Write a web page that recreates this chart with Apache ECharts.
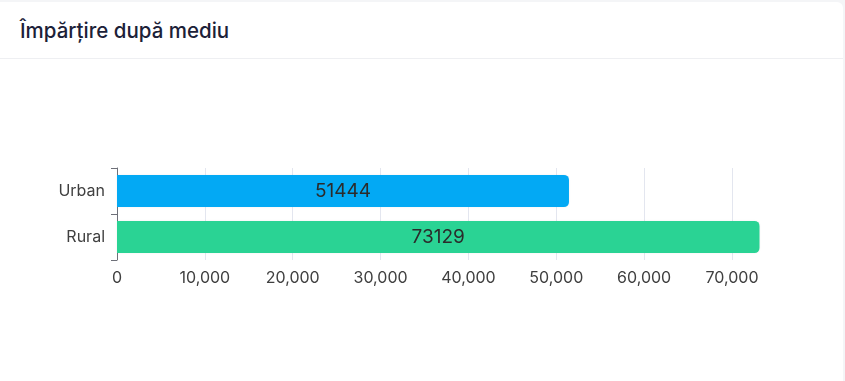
<!DOCTYPE html>
<html>
<head>
<meta charset="utf-8">
<script src="https://cdn.jsdelivr.net/npm/echarts@6/dist/echarts.min.js"></script>
<style>
html,body{margin:0;padding:0;background:#f4f5f7;width:845px;height:381px;overflow:hidden;font-family:Inter,"Noto Sans",sans-serif;}
#card{position:absolute;left:0;top:2px;width:843px;height:379px;background:#fff;border-top-right-radius:6px;}
#title{position:absolute;left:20px;top:16px;font-size:20.5px;font-weight:500;color:#1c2138;letter-spacing:0px;}
#sep{position:absolute;left:0;top:56px;width:843px;height:1px;background:#eeeff2;}
#chart{position:absolute;left:0;top:58px;width:845px;height:323px;}
</style>
</head>
<body>
<div id="card">
<div id="title">Împărțire după mediu</div>
<div id="sep"></div>
</div>
<div id="chart"></div>
<script>
const categories = ['Urban', 'Rural'];
const values = [51444, 73129];
const barColors = ['#03a9f4', '#2ad394'];

const chart = echarts.init(document.getElementById('chart'), null, {renderer: 'canvas'});
chart.setOption({
  animation: false,
  textStyle: {fontFamily: 'Inter'},
  grid: {left: 117, right: 85.5, top: 110, bottom: 121, containLabel: false},
  xAxis: {
    type: 'value',
    min: 0,
    max: 'dataMax',
    interval: 10000,
    axisLine: {show: false},
    axisTick: {show: false},
    splitLine: {show: true, showMaxLine: false, lineStyle: {color: '#e3e6ef', width: 1}},
    axisLabel: {
      showMaxLabel: false,
      color: '#404040',
      fontSize: 16,
      fontFamily: 'Inter',
      margin: 10,
      formatter: v => v.toLocaleString('en-US')
    }
  },
  yAxis: {
    type: 'category',
    data: categories,
    inverse: true,
    axisLine: {show: true, lineStyle: {color: '#6e7079', width: 1}},
    axisTick: {show: true, length: 6, lineStyle: {color: '#6e7079'}},
    axisLabel: {color: '#404040', fontSize: 16, fontFamily: 'Inter', margin: 12},
    splitLine: {show: false}
  },
  series: [{
    type: 'bar',
    barWidth: '70%',
    data: values.map((v, i) => ({value: v, itemStyle: {color: barColors[i]}})),
    itemStyle: {borderRadius: [0, 5, 5, 0], shadowColor: 'rgba(0,0,0,0.08)', shadowBlur: 2},
    label: {
      show: true,
      position: 'inside',
      color: '#2b2b2b',
      fontSize: 19,
      fontFamily: 'Inter'
    }
  }]
});
</script>
</body>
</html>
